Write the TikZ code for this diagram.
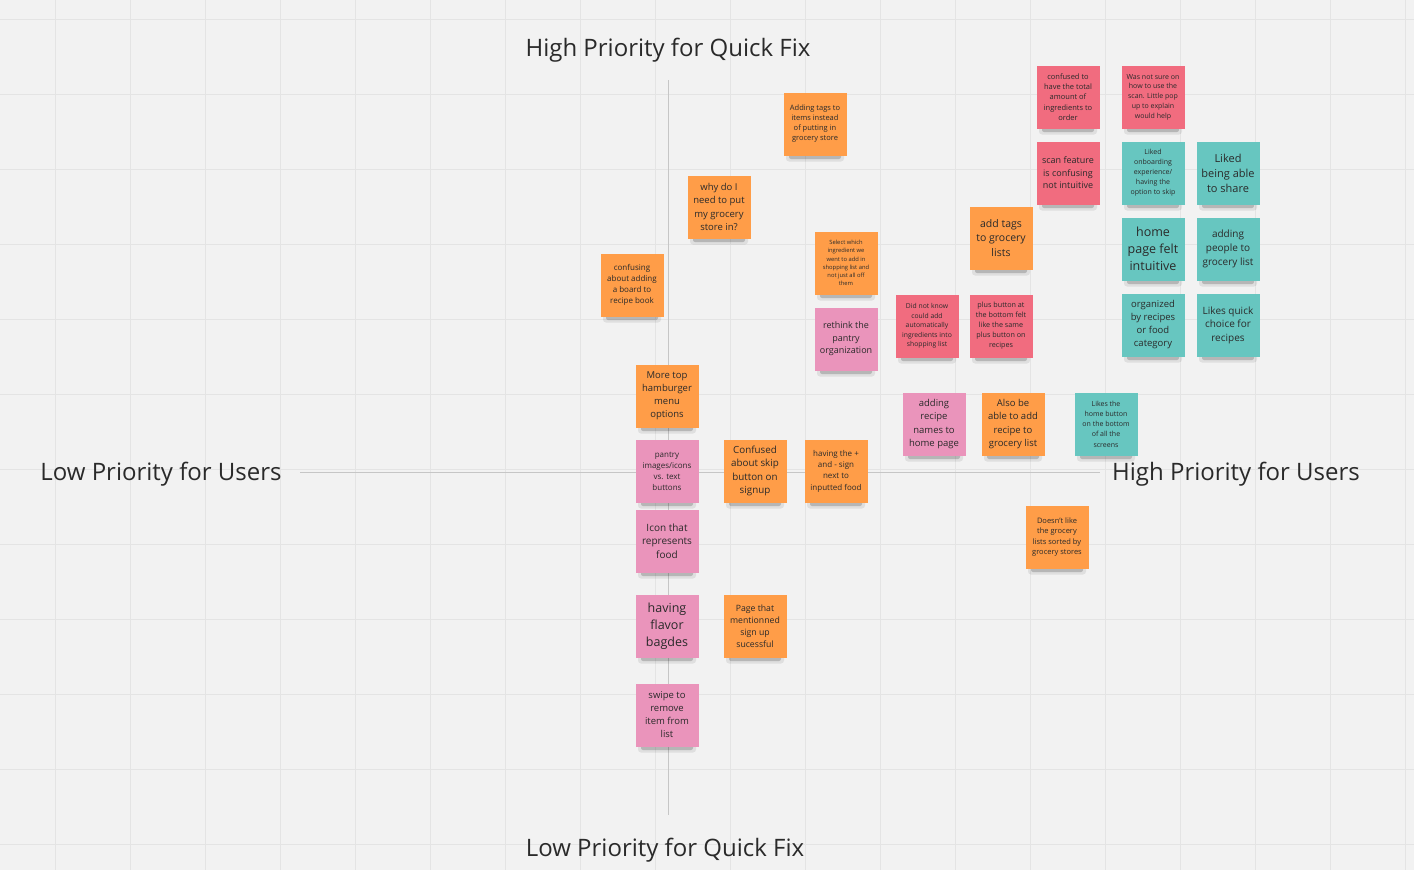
\documentclass[tikz,border=0pt]{standalone}
\usepackage{fontspec}
\setmainfont{Open Sans}
\definecolor{bg}{HTML}{F2F2F2}
\definecolor{gridc}{HTML}{E4E4E4}
\definecolor{axisc}{HTML}{C6C6C6}
\definecolor{sorange}{HTML}{FF9D48}
\definecolor{sred}{HTML}{F16C7F}
\definecolor{spink}{HTML}{EA94BB}
\definecolor{steal}{HTML}{67C6C0}
\definecolor{ink}{HTML}{2A2A2A}
\tikzset{
  note/.style={minimum width=63pt,minimum height=63pt,inner sep=0pt,align=center,text=ink},
  axlabel/.style={font=\fontsize{24}{30}\selectfont,text=ink,inner sep=0pt},
  gridline/.style={draw=gridc,line width=1pt},
  axisline/.style={draw=axisc,line width=1pt}
}
\newcommand\stick[7]{%
  \fill[black,opacity=0.08,rounded corners=3pt] (#2-29,#3+25) rectangle (#2+29,#3+37.5);
  \fill[black,opacity=0.18,rounded corners=2pt] (#2-26,#3+28) rectangle (#2+26,#3+35);
  \node[note,fill=#4,font=\fontsize{#5}{#6}\selectfont] (#1) at (#2,#3) {#7};}
\begin{document}
\begin{tikzpicture}[x=1pt,y=-1pt]
\useasboundingbox (0,0) rectangle (1414,870);
\fill[bg] (0,0) rectangle (1414,870);
\foreach \x in {55,130,...,1414} \draw[gridline] (\x,0) -- (\x,870);
\foreach \y in {19.5,94.5,...,870} \draw[gridline] (0,\y) -- (1414,\y);
% axes
\coordinate (vtop) at (668,80);
\coordinate (vbot) at (668,815);
\coordinate (hleft) at (300,472);
\coordinate (hright) at (1100,472);
\draw[axisline] (vtop) -- (vbot);
\draw[axisline] (hleft) -- (hright);
% axis labels
\node[axlabel] (lt) at (668,50.5) {High Priority for Quick Fix};
\node[axlabel] (lb) at (665,850.5) {Low Priority for Quick Fix};
\node[axlabel] (ll) at (161,474.5) {Low Priority for Users};
\node[axlabel] (lr) at (1236,474.5) {High Priority for Users};
% sticky notes
\stick{n1}{815}{124}{sorange}{7.5}{10}{Adding tags to\\items instead\\of putting in\\grocery store}
\stick{n2}{719}{207}{sorange}{9.5}{13.2}{why do I\\need to put\\my grocery\\store in?}
\stick{n3}{632}{285}{sorange}{8}{11.2}{confusing\\about adding\\a board to\\recipe book}
\stick{n4}{846}{263}{sorange}{5.8}{8.2}{Select which\\ingredient we\\went to add in\\shopping list and\\not just all off\\them}
\stick{n5}{846}{339}{spink}{9}{12.5}{rethink the\\pantry\\organization}
\stick{n6}{1068}{97}{sred}{7.5}{10.2}{confused to\\have the total\\amount of\\ingredients to\\order}
\stick{n7}{1153}{97}{sred}{7}{9.7}{Was not sure on\\how to use the\\scan. Little pop\\up to explain\\would help}
\stick{n8}{1068}{173}{sred}{9}{12.5}{scan feature\\is confusing\\not intuitive}
\stick{n9}{1153}{173}{steal}{7}{10}{Liked\\onboarding\\experience/\\having the\\option to skip}
\stick{n10}{1228}{173}{steal}{11}{15}{Liked\\being able\\to share}
\stick{n11}{1001}{238}{sorange}{10.5}{14.5}{add tags\\to grocery\\lists}
\stick{n12}{1153}{249}{steal}{12.5}{17}{home\\page felt\\intuitive}
\stick{n13}{1228}{249}{steal}{10}{14}{adding\\people to\\grocery list}
\stick{n14}{927}{326}{sred}{6.8}{9.5}{Did not know\\could add\\automatically\\ingredients into\\shopping list}
\stick{n15}{1001}{326}{sred}{7.2}{10}{plus button at\\the bottom felt\\like the same\\plus button on\\recipes}
\stick{n16}{1153}{325}{steal}{9.5}{13}{organized\\by recipes\\or food\\category}
\stick{n17}{1228}{325}{steal}{10}{13.5}{Likes quick\\choice for\\recipes}
\stick{n18}{667}{396}{sorange}{9.5}{13}{More top\\hamburger\\menu\\options}
\stick{n19}{934}{424}{spink}{9.5}{13.3}{adding\\recipe\\names to\\home page}
\stick{n20}{1013}{424}{sorange}{9.5}{13.3}{Also be\\able to add\\recipe to\\grocery list}
\stick{n21}{1106}{424}{steal}{7}{10.2}{Likes the\\home button\\on the bottom\\of all the\\screens}
\stick{n22}{667}{471}{spink}{8}{11}{pantry\\images/icons\\vs. text\\buttons}
\stick{n23}{755}{471}{sorange}{9.8}{13.3}{Confused\\about skip\\button on\\signup}
\stick{n24}{836}{471}{sorange}{8}{11.3}{having the +\\and - sign\\next to\\inputted food}
\stick{n25}{1057}{537}{sorange}{7.5}{10.3}{Doesn't like\\the grocery\\lists sorted by\\grocery stores}
\stick{n26}{667}{541}{spink}{10}{13.5}{Icon that\\represents\\food}
\stick{n27}{667}{626}{spink}{12.5}{17}{having\\flavor\\bagdes}
\stick{n28}{755}{626}{sorange}{8.7}{12}{Page that\\mentionned\\sign up\\sucessful}
\stick{n29}{667}{715}{spink}{9.5}{13}{swipe to\\remove\\item from\\list}
\end{tikzpicture}
\end{document}
